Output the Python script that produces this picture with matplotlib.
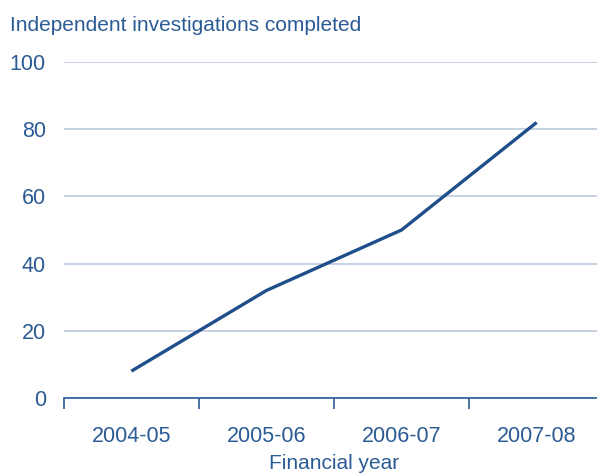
import matplotlib
matplotlib.use('Agg')
import matplotlib.pyplot as plt
import numpy as np

years = ['2004-05', '2005-06', '2006-07', '2007-08']
completed = [8, 32, 50, 82]
y_ticks = [0, 20, 40, 60, 80, 100]

text_col = '#2b5b95'
line_col = '#1f4f8b'
grid_col = '#bccbdd'

plt.rcParams['font.family'] = ['Liberation Sans', 'DejaVu Sans']

fig = plt.figure(figsize=(5.97, 4.73), dpi=100)
# plot area runs slightly past the right edge, like the original
ax = fig.add_axes([0.107, 0.1586, 0.905, 0.7104])

x = np.arange(len(years))
ax.plot(x, completed, color=line_col, lw=2.4, solid_capstyle='butt')

ax.set_xlim(-0.5, len(years) - 0.5)
ax.set_ylim(0, 100)
ax.set_yticks(y_ticks)
ax.set_yticklabels([str(v) for v in y_ticks], fontsize=15.5, color=text_col)
ax.tick_params(axis='y', length=0, pad=13)
ax.yaxis.grid(True, color=grid_col, lw=1.2)
ax.set_axisbelow(True)

# category labels centred, ticks at boundaries
ax.set_xticks(np.arange(len(years) + 1) - 0.5)
ax.set_xticklabels([''] * (len(years) + 1))
ax.set_xticks(x, minor=True)
ax.set_xticklabels(years, minor=True, fontsize=15.5, color=text_col)
ax.tick_params(axis='x', which='major', length=8, color=text_col, width=1.2)
ax.tick_params(axis='x', which='minor', length=0, pad=20)

for s in ['top', 'right', 'left']:
    ax.spines[s].set_visible(False)
ax.spines['bottom'].set_color(text_col)
ax.spines['bottom'].set_linewidth(1.2)

ax.set_xlabel('Financial year', fontsize=15, color=text_col, labelpad=5)
fig.text(0.017, 0.947, 'Independent investigations completed', fontsize=15,
         color=text_col, ha='left', va='center')

fig.savefig('out.png', dpi=100)
